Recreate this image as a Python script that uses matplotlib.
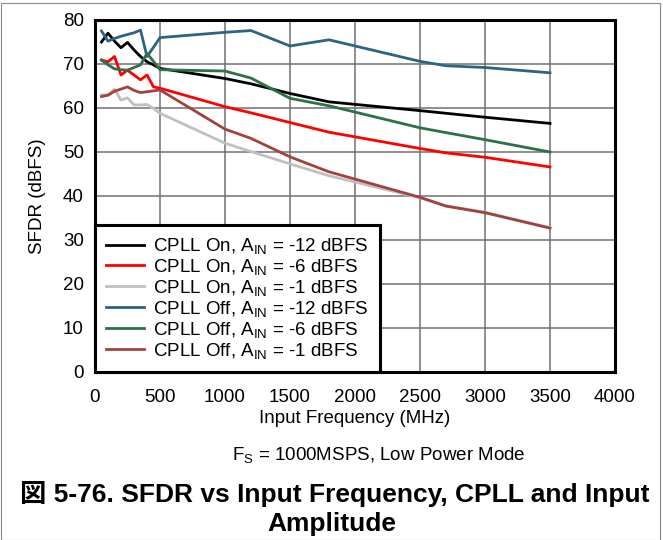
import matplotlib
matplotlib.use("Agg")
import matplotlib.pyplot as plt
from matplotlib.patches import Rectangle

plt.rcParams["font.family"] = ["Liberation Sans", "Noto Sans CJK JP"]
plt.rcParams["mathtext.default"] = "regular"

# input frequency (MHz)
freq = [50, 100, 150, 200, 250, 300, 350, 400, 450, 500,
        1000, 1200, 1500, 1800, 2500, 2700, 3000, 3500]

# SFDR (dBFS) per curve
on_m12 = [75.0, 77.0, 75.2, 73.7, 74.9, 73.2, 71.7, 70.5, 69.8, 69.0,
          66.7, 65.5, 63.3, 61.4, 59.4, 58.8, 57.9, 56.5]
on_m6 = [70.9, 70.5, 71.7, 67.5, 68.6, 67.5, 66.4, 67.5, 64.8, 64.5,
         60.3, 58.9, 56.7, 54.5, 50.8, 49.8, 48.8, 46.6]
on_m1 = [63.0, 63.0, 64.3, 61.8, 62.3, 60.7, 60.7, 60.8, 59.9, 58.8,
         52.0, 50.1, 47.3, 44.6, 39.6, 37.8, 36.3, 32.8]
off_m12 = [77.5, 75.2, 75.8, 76.3, 76.7, 77.1, 77.7, 71.7, 73.8, 76.0,
           77.2, 77.6, 74.1, 75.5, 70.6, 69.6, 69.2, 68.0]
off_m6 = [70.9, 69.8, 68.9, 68.7, 68.6, 69.2, 69.8, 72.4, 70.6, 68.7,
          68.4, 66.8, 62.2, 60.5, 55.5, 54.4, 52.8, 50.0]
off_m1 = [62.6, 62.9, 63.8, 64.3, 64.8, 64.0, 63.5, 63.7, 63.9, 64.1,
          55.2, 53.1, 48.9, 45.5, 39.7, 37.7, 36.2, 32.7]

labels = [
    "CPLL On, A$_{IN}$ = -12 dBFS",
    "CPLL On, A$_{IN}$ = -6 dBFS",
    "CPLL On, A$_{IN}$ = -1 dBFS",
    "CPLL Off, A$_{IN}$ = -12 dBFS",
    "CPLL Off, A$_{IN}$ = -6 dBFS",
    "CPLL Off, A$_{IN}$ = -1 dBFS",
]
colors = ["#000000", "#FF0000", "#C0C0C0", "#2E6480", "#2E7048", "#A04242"]

fig = plt.figure(figsize=(6.63, 5.40), dpi=100)
fig.patches.append(Rectangle((0.002, 0.0), 0.994, 0.995, transform=fig.transFigure,
                             fill=False, edgecolor="#888888", linewidth=0.8))
ax = fig.add_axes([95 / 663, 168 / 540, 520 / 663, 352 / 540])

for ys, c, lab in zip([on_m12, on_m6, on_m1, off_m12, off_m6, off_m1], colors, labels):
    ax.plot(freq, ys, color=c, linewidth=2.0, label=lab)

ax.set_xlim(0, 4000)
ax.set_ylim(0, 80)
ax.set_xticks(range(0, 4001, 500))
ax.set_yticks(range(0, 81, 10))
ax.grid(True, color="#707070", linewidth=1.1)
ax.set_axisbelow(True)
ax.tick_params(length=0, labelsize=13.5)
ax.tick_params(axis="x", pad=12)
ax.tick_params(axis="y", pad=8)
for s in ax.spines.values():
    s.set_linewidth(2.2)

ax.set_xlabel("Input Frequency (MHz)", fontsize=13.5, labelpad=3)
ax.set_ylabel("SFDR (dBFS)", fontsize=13.5, labelpad=12)

leg = ax.legend(loc="lower left", borderaxespad=0, fontsize=13.5, fancybox=False,
                framealpha=1, edgecolor="black", handlelength=2.0,
                labelspacing=0.05, borderpad=0.6, handletextpad=0.5)
leg.get_frame().set_linewidth(2.2)

fig.text(379 / 663, 1 - 460 / 540, "F$_S$ = 1000MSPS, Low Power Mode",
         fontsize=13.5, ha="center", va="baseline")
fig.text(0.505, 1 - 502 / 540, "図 5-76. SFDR vs Input Frequency, CPLL and Input",
         fontsize=19, fontweight="bold", ha="center", va="baseline")
fig.text(0.5, 1 - 531 / 540, "Amplitude",
         fontsize=19, fontweight="bold", ha="center", va="baseline")

fig.savefig("out.png", dpi=100)
